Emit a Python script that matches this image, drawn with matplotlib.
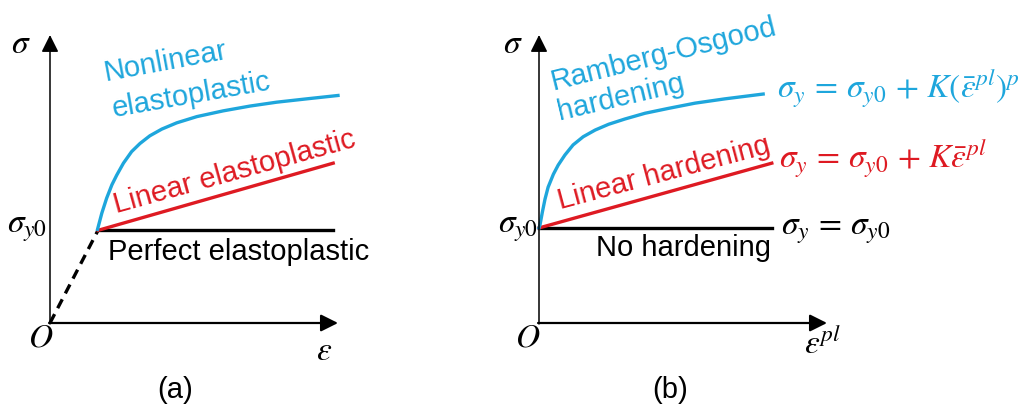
import numpy as np
from matplotlib import pyplot as plt

plt.rcParams['font.family'] = ['Liberation Sans', 'DejaVu Sans']
plt.rcParams['mathtext.fontset'] = 'stix'

BLUE = '#1ea6dc'
RED = '#de1a22'

# panel (a): total strain vs stress (arbitrary units)
eps_yield_a = 1.0
sig_y0_a = 1.93
eps_end_a = 5.9
sig_lin_end_a = 3.33
eps_nl_a = [0.99, 1.08, 1.18, 1.29, 1.39, 1.53, 1.70, 1.875, 2.08, 2.33, 2.64, 3.06, 3.61, 4.17, 4.72, 5.35, 6.0]
sig_nl_a = [1.95, 2.29, 2.60, 2.88, 3.08, 3.33, 3.57, 3.74, 3.90, 4.04, 4.17, 4.30, 4.42, 4.52, 4.60, 4.67, 4.74]

# panel (b): plastic strain vs yield stress
sig_y0_b = 1.98
eps_end_b = 4.85
sig_lin_end_b = 3.33
eps_ro_b = [0.0, 0.02, 0.07, 0.125, 0.19, 0.30, 0.40, 0.54, 0.71, 0.92, 1.17, 1.45, 1.79, 2.21, 2.69, 3.25, 3.875, 4.67]
sig_ro_b = [1.98, 2.04, 2.31, 2.58, 2.83, 3.10, 3.29, 3.50, 3.71, 3.88, 4.02, 4.14, 4.25, 4.37, 4.47, 4.58, 4.67, 4.77]

W, H = 1028, 409
fig = plt.figure(figsize=(W/100, H/100), dpi=100)

def make_axes(left_px):
    ax = fig.add_axes([left_px/W, 86/H, 288/W, 288/H])
    ax.set_xlim(0, 6)
    ax.set_ylim(0, 6)
    ax.axis('off')
    # axes arrows
    ax.annotate('', xy=(6.0, 0), xytext=(-0.02, 0),
                arrowprops=dict(arrowstyle='-|>', mutation_scale=26, lw=1.6, color='k', shrinkA=0, shrinkB=0))
    ax.annotate('', xy=(0, 6.0), xytext=(0, -0.02),
                arrowprops=dict(arrowstyle='-|>', mutation_scale=26, lw=1.1, color='k', shrinkA=0, shrinkB=0))
    return ax

lw = 2.4
tfs = 21
mfs = 24

# ---------------- panel (a)
ax = make_axes(50)
ax.plot([0, eps_yield_a], [0, sig_y0_a], color='k', lw=lw, ls=(0, (3, 2)), clip_on=False)
ax.plot([eps_yield_a, eps_end_a], [sig_y0_a, sig_y0_a], color='k', lw=lw, clip_on=False)
ax.plot([eps_yield_a, eps_end_a], [sig_y0_a, sig_lin_end_a], color=RED, lw=lw, clip_on=False)
ax.plot(eps_nl_a, sig_nl_a, color=BLUE, lw=lw, clip_on=False, solid_joinstyle='round')

ax.text(2.4, 5.45, 'Nonlinear', color=BLUE, fontsize=tfs, rotation=10.5, ha='center', va='center')
ax.text(2.95, 4.75, 'elastoplastic', color=BLUE, fontsize=tfs, rotation=10, ha='center', va='center')
ax.text(3.85, 3.15, 'Linear elastoplastic', color=RED, fontsize=tfs, rotation=15.5, ha='center', va='center')
ax.text(3.92, 1.48, 'Perfect elastoplastic', color='k', fontsize=tfs, ha='center', va='center')
ax.text(-0.6, 5.8, r'$\sigma$', fontsize=mfs, ha='center', va='center')
ax.text(-0.06, 1.97, r'$\sigma_{y0}$', fontsize=mfs, ha='right', va='center')
ax.text(-0.2, -0.32, r'$O$', fontsize=mfs, ha='center', va='center')
ax.text(5.7, -0.6, r'$\varepsilon$', fontsize=mfs, ha='center', va='center')
ax.text(2.6, -1.4, '(a)', fontsize=tfs, ha='center', va='center')

# ---------------- panel (b)
ax = make_axes(539)
ax.plot([0, eps_end_b], [sig_y0_b, sig_y0_b], color='k', lw=lw, clip_on=False)
ax.plot([0, eps_end_b], [sig_y0_b, sig_lin_end_b], color=RED, lw=lw, clip_on=False)
ax.plot(eps_ro_b, sig_ro_b, color=BLUE, lw=lw, clip_on=False, solid_joinstyle='round')

ax.text(2.6, 5.6, 'Ramberg-Osgood', color=BLUE, fontsize=tfs, rotation=14, ha='center', va='center')
ax.text(1.7, 4.7, 'hardening', color=BLUE, fontsize=tfs, rotation=13.3, ha='center', va='center')
ax.text(2.6, 3.12, 'Linear hardening', color=RED, fontsize=tfs, rotation=15, ha='center', va='center')
ax.text(3.0, 1.56, 'No hardening', color='k', fontsize=tfs, ha='center', va='center')
ax.text(4.95, 4.88, r'$\sigma_y\,=\,\sigma_{y0}\,+\,K\left(\bar{\varepsilon}^{pl}\right)^p$', color=BLUE,
        fontsize=mfs, ha='left', va='center')
ax.text(5.0, 3.42, r'$\sigma_y\,=\,\sigma_{y0}\,+\,K\bar{\varepsilon}^{pl}$', color=RED,
        fontsize=mfs, ha='left', va='center')
ax.text(5.05, 1.93, r'$\sigma_y\,=\,\sigma_{y0}$', color='k', fontsize=mfs, ha='left', va='center')
ax.text(-0.55, 5.8, r'$\sigma$', fontsize=mfs, ha='center', va='center')
ax.text(-0.02, 1.97, r'$\sigma_{y0}$', fontsize=mfs, ha='right', va='center')
ax.text(-0.23, -0.32, r'$O$', fontsize=mfs, ha='center', va='center')
ax.text(5.9, -0.45, r'$\varepsilon^{pl}$', fontsize=mfs, ha='center', va='center')
ax.text(2.73, -1.4, '(b)', fontsize=tfs, ha='center', va='center')

fig.savefig('out.png', dpi=100, facecolor='white')
